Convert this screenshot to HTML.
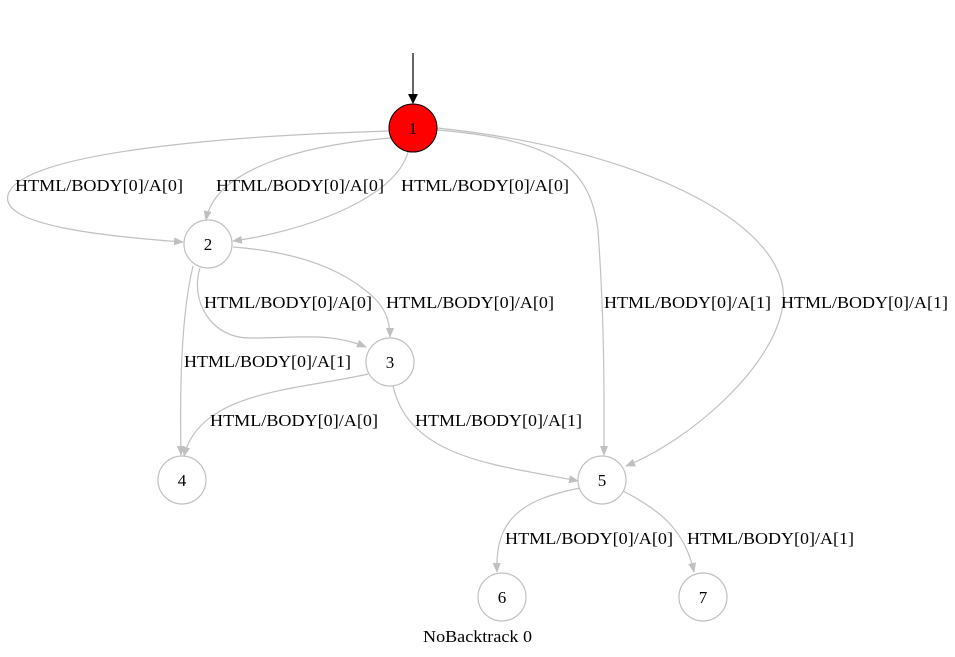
<!DOCTYPE html>
<html><head><meta charset="utf-8"><style>
html,body{margin:0;padding:0;background:#fff;width:955px;height:657px;overflow:hidden}
text{font-family:"Liberation Serif",serif;font-size:17px;fill:#000}
</style></head><body>
<svg width="955" height="657" viewBox="0 0 955 657" xmlns="http://www.w3.org/2000/svg">
<defs>
<marker id="g" markerWidth="10" markerHeight="8" refX="9" refY="4" orient="auto" markerUnits="userSpaceOnUse"><path d="M0,0 L10,4 L0,8 z" fill="#c0c0c0"/></marker>
<marker id="b" markerWidth="10" markerHeight="10" refX="9" refY="5" orient="auto" markerUnits="userSpaceOnUse"><path d="M0,0 L10,5 L0,10 z" fill="#000"/></marker>
</defs>
<line x1="413" y1="53" x2="413" y2="103" stroke="#000" stroke-width="1.2" marker-end="url(#b)"/>
<g fill="none" stroke="#c0c0c0" stroke-width="1.2" marker-end="url(#g)">
<path d="M390,131 C250,135 20,150 8,195 C0,225 100,236 183,242"/>
<path d="M391,138 C300,145 215,170 206,220"/>
<path d="M408,152 C395,200 300,232 233,241"/>
<path d="M437,130 C560,140 590,170 598,230 C605,330 604,400 604,455"/>
<path d="M437,128 C650,150 800,230 782,310 C770,370 690,440 626,466"/>
<path d="M200,268 C190,300 210,338 250,338 C300,338 330,332 366,347"/>
<path d="M233,247 C300,252 340,270 365,290 C385,305 390,320 390,337"/>
<path d="M193,266 C180,320 180,400 181,455"/>
<path d="M368,374 C300,390 200,390 184,456"/>
<path d="M393,386 C410,460 500,465 578,481"/>
<path d="M580,488 C520,500 495,520 497,572"/>
<path d="M623,491 C660,510 685,530 694,572"/>
</g>
<circle cx="413" cy="128" r="24" fill="#ff0000" stroke="#000" stroke-width="1"/>
<g fill="#fff" stroke="#c0c0c0" stroke-width="1.2">
<circle cx="208" cy="244" r="24"/>
<circle cx="390" cy="362" r="24"/>
<circle cx="182" cy="480" r="24"/>
<circle cx="602" cy="480" r="24"/>
<circle cx="502" cy="597" r="24"/>
<circle cx="703" cy="597" r="24"/>
</g>
<g text-anchor="middle">
<text x="413" y="134">1</text>
<text x="208" y="250">2</text>
<text x="390" y="368">3</text>
<text x="182" y="486">4</text>
<text x="602" y="486">5</text>
<text x="502" y="603">6</text>
<text x="703" y="603">7</text>
</g>
<text x="423" y="642" textLength="109" lengthAdjust="spacingAndGlyphs">NoBacktrack 0</text>
<g>
<text x="15" y="191" textLength="168" lengthAdjust="spacingAndGlyphs">HTML/BODY[0]/A[0]</text>
<text x="216" y="191" textLength="168" lengthAdjust="spacingAndGlyphs">HTML/BODY[0]/A[0]</text>
<text x="401" y="191" textLength="168" lengthAdjust="spacingAndGlyphs">HTML/BODY[0]/A[0]</text>
<text x="204" y="308" textLength="168" lengthAdjust="spacingAndGlyphs">HTML/BODY[0]/A[0]</text>
<text x="386" y="308" textLength="168" lengthAdjust="spacingAndGlyphs">HTML/BODY[0]/A[0]</text>
<text x="604" y="308" textLength="167" lengthAdjust="spacingAndGlyphs">HTML/BODY[0]/A[1]</text>
<text x="781" y="308" textLength="167" lengthAdjust="spacingAndGlyphs">HTML/BODY[0]/A[1]</text>
<text x="184" y="367" textLength="167" lengthAdjust="spacingAndGlyphs">HTML/BODY[0]/A[1]</text>
<text x="210" y="426" textLength="168" lengthAdjust="spacingAndGlyphs">HTML/BODY[0]/A[0]</text>
<text x="415" y="426" textLength="167" lengthAdjust="spacingAndGlyphs">HTML/BODY[0]/A[1]</text>
<text x="505" y="544" textLength="168" lengthAdjust="spacingAndGlyphs">HTML/BODY[0]/A[0]</text>
<text x="687" y="544" textLength="167" lengthAdjust="spacingAndGlyphs">HTML/BODY[0]/A[1]</text>
</g>
</svg>
</body></html>
